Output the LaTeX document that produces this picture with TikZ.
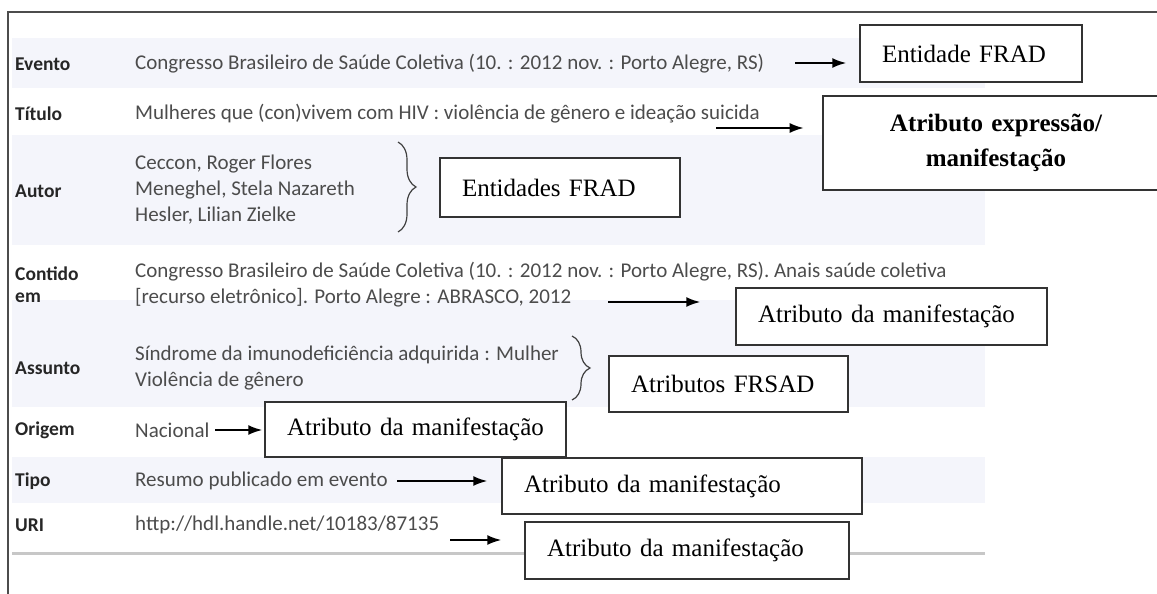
\documentclass[tikz,border=0pt]{standalone}
\usepackage{fontspec}
\setmainfont{Liberation Serif}
\newfontfamily\rowfont{Carlito}
\usetikzlibrary{arrows.meta,decorations.pathreplacing}

\begin{document}
\begin{tikzpicture}[x=1pt, y=-1pt]
  \tikzstyle{lbl}=[anchor=west, inner sep=0pt, text=black!85,
    font=\rowfont\fontsize{19.5}{22}\selectfont\bfseries]
  \tikzstyle{val}=[anchor=west, inner sep=0pt, text=black!70,
    font=\rowfont\fontsize{21}{26}\selectfont]
  \tikzstyle{box}=[draw=black!80, line width=1.5pt, inner ysep=0pt,
    inner xsep=22pt, align=left, fill=white,
    font=\fontsize{25}{33}\selectfont]
  \tikzstyle{arr}=[-{Latex[length=14pt,width=10pt]}, line width=1.8pt]
  \tikzstyle{band}=[fill=cyan!30!blue!4]
  \tikzstyle{curly}=[black!75, line width=1.2pt, decorate,
    decoration={brace, amplitude=18pt}]

  \useasboundingbox (0,0) rectangle (1157,594);

  % row bands
  \foreach \a/\b in {38/88, 135/245, 300/407, 457/503}
  {
    \fill[band] (12,\a) rectangle (985,\b);
  }
  \draw[line width=3pt, black!22] (12,553) -- (985,553);
  \draw[line width=1.6pt, black!70] (8,594) -- (8,12) -- (1157,12);

  % labels
  \foreach \n/\y/\t in {ev/64/Evento, ti/114/Título, au/191/Autor,
                        as/368/Assunto, or/430/Origem, tp/481/Tipo, ur/525/URI}
  {
    \path (15, \y) node[lbl] (l\n) {\t};
  }
  \path (15, 285) node[lbl, align=left] (lco) {Contido\\em};

  % values
  \path (135, 64) node[val] (vev)
    {Congresso Brasileiro de Saúde Coletiva (10. : 2012 nov. : Porto Alegre, RS)};
  \path (135, 114) node[val] (vti)
    {Mulheres que (con)vivem com HIV : violência de gênero e ideação suicida};
  \path (135, 190) node[val, align=left] (vau)
    {Ceccon, Roger Flores\\Meneghel, Stela Nazareth\\Hesler, Lilian Zielke};
  \path (135, 285) node[val, align=left] (vco)
    {Congresso Brasileiro de Saúde Coletiva (10. : 2012 nov. : Porto Alegre, RS). Anais saúde coletiva\\
     {[}recurso eletrônico{]}. Porto Alegre : ABRASCO, 2012};
  \path (135, 368) node[val, align=left] (vas)
    {Síndrome da imunodeficiência adquirida : Mulher\\Violência de gênero};
  \path (135, 430) node[val] (vor) {Nacional};
  \path (135, 481) node[val] (vtp) {Resumo publicado em evento};
  \path (135, 525) node[val] (vur) {http://hdl.handle.net/10183/87135};

  % boxes
  \path (971, 53.5) node[box, text width=178pt, minimum height=57pt] (efrad) {Entidade FRAD};
  \path (996, 143) node[box, line width=2.6pt, align=center, text width=302pt,
    minimum height=94pt, font=\fontsize{25}{35}\selectfont\bfseries] (aexp)
    {Atributo expressão/\\manifestação};
  \path (560, 187.5) node[box, text width=196pt, minimum height=59pt] (efrads) {Entidades FRAD};
  \path (891.5, 316.5) node[box, text width=267pt, minimum height=57pt] (amc) {Atributo da manifestação};
  \path (728.5, 384) node[box, text width=195pt, minimum height=56pt] (frsad) {Atributos FRSAD};
  \path (415.5, 429.5) node[box, text width=257pt, minimum height=55pt] (amo) {Atributo da manifestação};
  \path (682, 486) node[box, text width=316pt, minimum height=56pt] (amt) {Atributo da manifestação};
  \path (687, 550.5) node[box, text width=280pt, minimum height=57pt] (amu) {Atributo da manifestação};

  % braces
  \draw[curly] (398, 142) -- (398, 232);
  \draw[curly] (572, 336) -- (572, 400);

  % arrows
  \coordinate (aev) at (795, 63);
  \coordinate (ati) at (716, 128);
  \coordinate (aco) at (608, 302);
  \coordinate (aor) at (215, 430);
  \coordinate (atp) at (397, 481);
  \coordinate (aur) at (450, 540);
  \draw[arr, shorten >=13pt] (aev) -- (aev -| efrad.west);
  \draw[arr, shorten >=18pt] (ati) -- (ati -| aexp.west);
  \draw[arr, shorten >=35pt] (aco) -- (aco -| amc.west);
  \draw[arr, shorten >=2pt] (aor) -- (aor -| amo.west);
  \draw[arr, shorten >=14pt] (atp) -- (atp -| amt.west);
  \draw[arr, shorten >=23pt] (aur) -- (aur -| amu.west);
\end{tikzpicture}
\end{document}
